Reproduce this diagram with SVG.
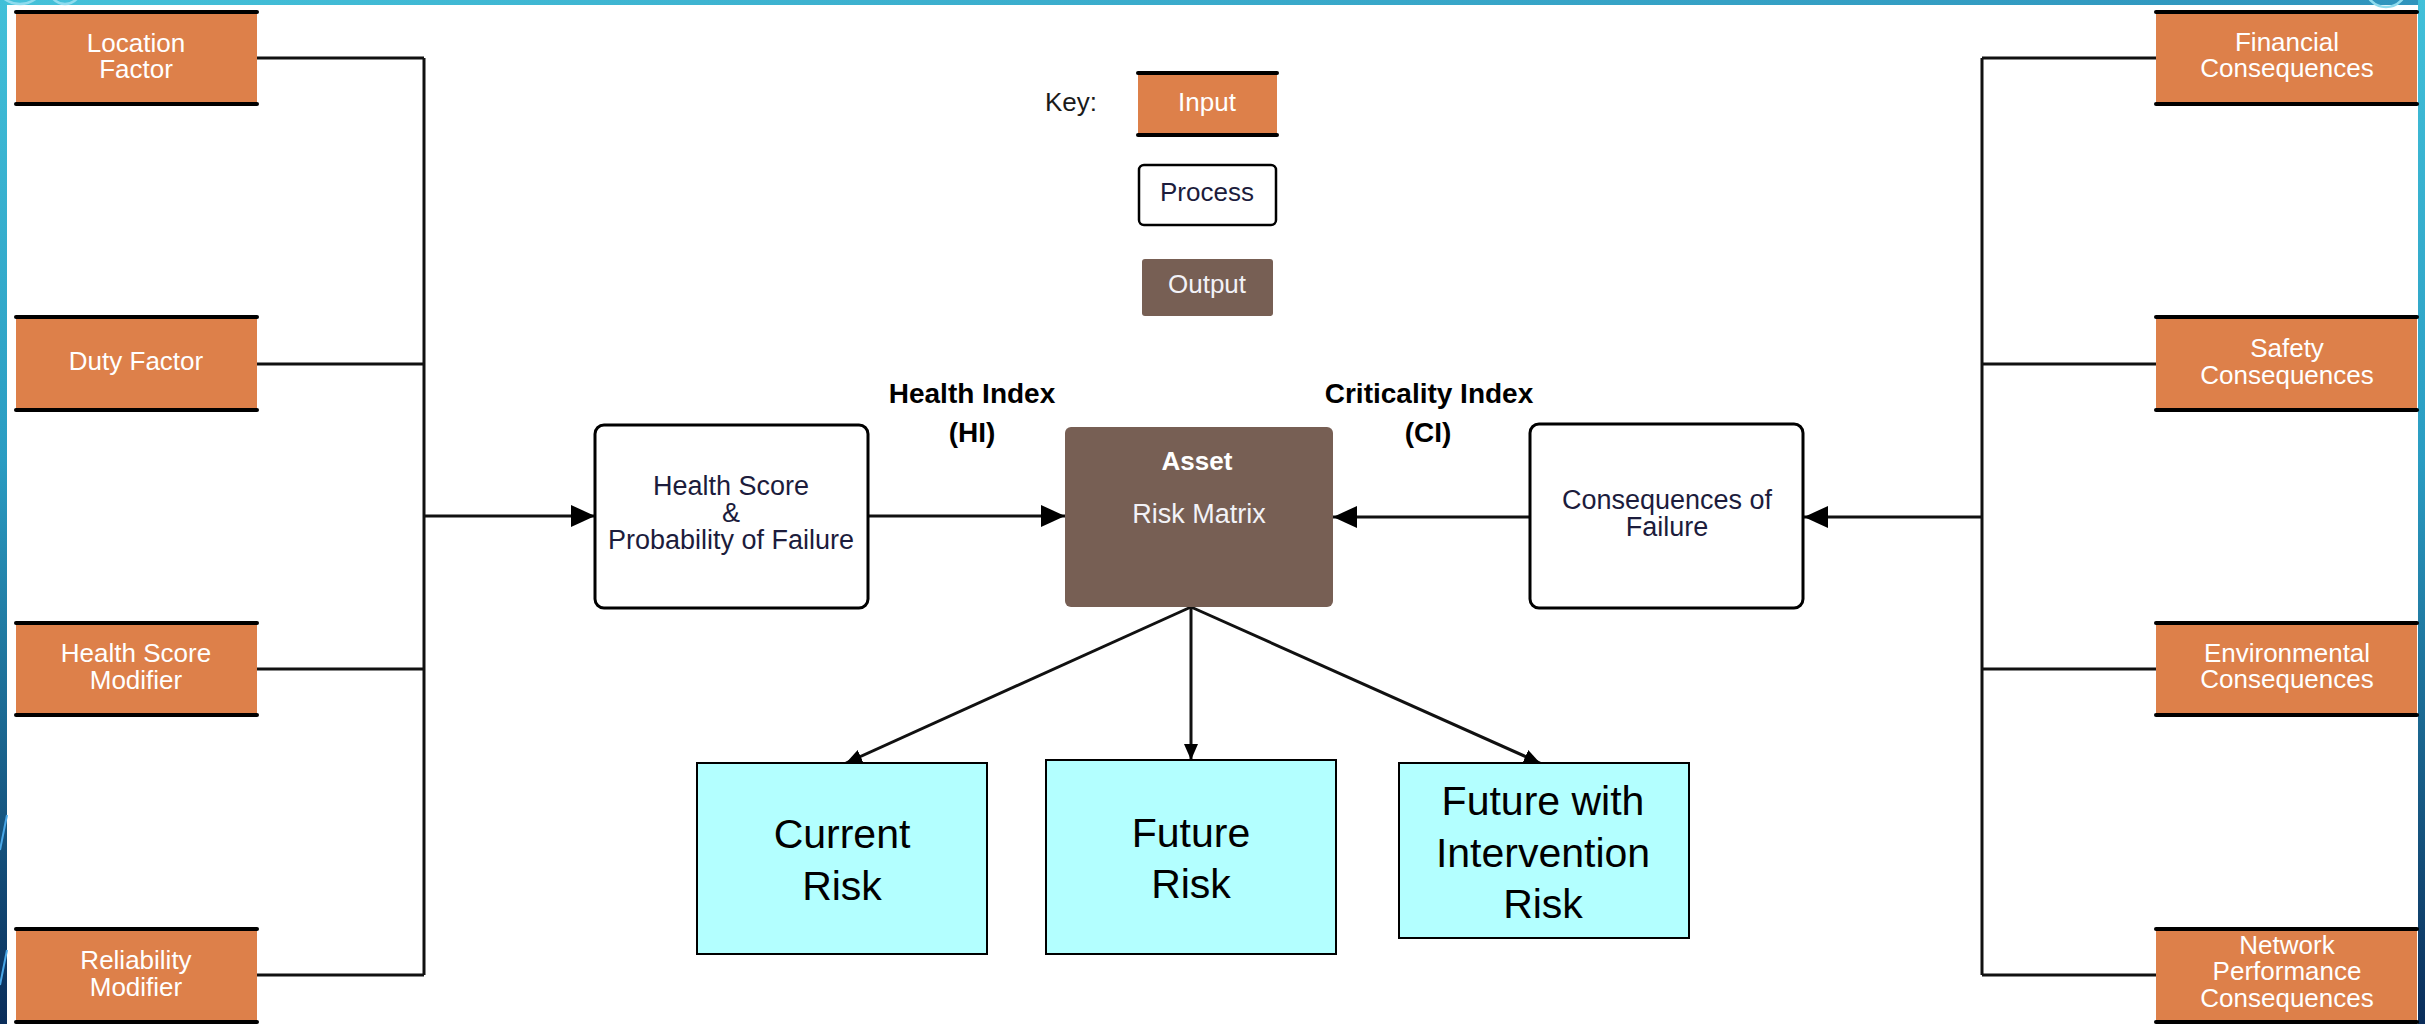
<svg xmlns="http://www.w3.org/2000/svg" width="2425" height="1024" viewBox="0 0 2425 1024">
<defs>
  <linearGradient id="sideGrad" x1="0" y1="0" x2="0" y2="1">
    <stop offset="0" stop-color="#42c0d9"/>
    <stop offset="0.45" stop-color="#2a9cc2"/>
    <stop offset="1" stop-color="#0a2d5a"/>
  </linearGradient>
  <linearGradient id="topGrad" x1="0" y1="0" x2="1" y2="0">
    <stop offset="0" stop-color="#44c1d9"/>
    <stop offset="1" stop-color="#2f94bd"/>
  </linearGradient>
  <marker id="arrowBig" markerUnits="userSpaceOnUse" markerWidth="24" markerHeight="22" viewBox="0 0 24 22" refX="24" refY="11" orient="auto">
    <path d="M0,0 L24,11 L0,22 z" fill="#000"/>
  </marker>
  <marker id="arrowSmall" markerUnits="userSpaceOnUse" markerWidth="16" markerHeight="14" viewBox="0 0 16 14" refX="16" refY="7" orient="auto">
    <path d="M0,0 L16,7 L0,14 z" fill="#000"/>
  </marker>
</defs>
<style>
  .inBox { fill:#dd804a; }
  .inLine { stroke:#000; stroke-width:4; stroke-linecap:round; }
  .inText { font-family:"Liberation Sans", Arial, sans-serif; font-size:26px; fill:#ffffff; text-anchor:middle; }
  .proc { fill:#ffffff; stroke:#000; stroke-width:3; }
  .procText { font-family:"Liberation Sans", Arial, sans-serif; font-size:27px; fill:#1c1c3c; text-anchor:middle; }
  .out { fill:#775f54; }
  .outText { font-family:"Liberation Sans", Arial, sans-serif; font-size:27px; fill:#f2f2f7; text-anchor:middle; }
  .label { font-family:"Liberation Sans", Arial, sans-serif; font-weight:bold; font-size:28px; fill:#000; text-anchor:middle; }
  .risk { fill:#b3ffff; stroke:#000; stroke-width:2; }
  .riskText { font-family:"Liberation Sans", Arial, sans-serif; font-size:41px; fill:#000; text-anchor:middle; }
  .conn { fill:none; stroke:#111; stroke-width:3; }
  .deco { fill:none; stroke:#8fdcee; stroke-width:2.5; }
</style>

<!-- slide background and frame -->
<rect x="0" y="0" width="2425" height="1024" fill="#ffffff"/>
<rect x="0" y="0" width="2425" height="5" fill="url(#topGrad)"/>
<rect x="0" y="0" width="7" height="1024" fill="url(#sideGrad)"/>
<rect x="2418" y="0" width="7" height="1024" fill="url(#sideGrad)"/>
<circle class="deco" cx="20" cy="-22" r="26"/>
<circle class="deco" cx="65" cy="-12" r="16"/>
<circle class="deco" cx="2386" cy="-14" r="21"/>
<line x1="0" y1="850" x2="7" y2="815" stroke="#4aa8e8" stroke-width="2"/>
<line x1="0" y1="985" x2="7" y2="950" stroke="#4aa8e8" stroke-width="2"/>

<!-- connectors -->
<g id="connectors">
  <path class="conn" d="M257,58 H424 M257,364 H424 M257,669 H424 M257,975 H424 M424,58 V975"/>
  <line class="conn" x1="424" y1="516" x2="595" y2="516" marker-end="url(#arrowBig)"/>
  <line class="conn" x1="868" y1="516" x2="1065" y2="516" marker-end="url(#arrowBig)"/>
  <line class="conn" x1="1530" y1="517" x2="1333" y2="517" marker-end="url(#arrowBig)"/>
  <path class="conn" d="M2156,58 H1982 M2156,364 H1982 M2156,669 H1982 M2156,975 H1982 M1982,58 V975"/>
  <line class="conn" x1="1982" y1="517" x2="1804" y2="517" marker-end="url(#arrowBig)"/>
  <line class="conn" x1="1191" y1="607" x2="846" y2="763" marker-end="url(#arrowSmall)"/>
  <line class="conn" x1="1191" y1="607" x2="1191" y2="760" marker-end="url(#arrowSmall)"/>
  <line class="conn" x1="1191" y1="607" x2="1540" y2="763" marker-end="url(#arrowSmall)"/>
</g>

<!-- left inputs -->
<g id="location-factor">
  <rect class="inBox" x="16" y="12" width="241" height="92"/>
  <line class="inLine" x1="16" y1="12" x2="257" y2="12"/>
  <line class="inLine" x1="16" y1="104" x2="257" y2="104"/>
  <text class="inText" x="136" y="52">Location</text>
  <text class="inText" x="136" y="78">Factor</text>
</g>
<g id="duty-factor">
  <rect class="inBox" x="16" y="317" width="241" height="93"/>
  <line class="inLine" x1="16" y1="317" x2="257" y2="317"/>
  <line class="inLine" x1="16" y1="410" x2="257" y2="410"/>
  <text class="inText" x="136" y="370">Duty Factor</text>
</g>
<g id="health-score-modifier">
  <rect class="inBox" x="16" y="623" width="241" height="92"/>
  <line class="inLine" x1="16" y1="623" x2="257" y2="623"/>
  <line class="inLine" x1="16" y1="715" x2="257" y2="715"/>
  <text class="inText" x="136" y="662">Health Score</text>
  <text class="inText" x="136" y="689">Modifier</text>
</g>
<g id="reliability-modifier">
  <rect class="inBox" x="16" y="929" width="241" height="93"/>
  <line class="inLine" x1="16" y1="929" x2="257" y2="929"/>
  <line class="inLine" x1="16" y1="1022" x2="257" y2="1022"/>
  <text class="inText" x="136" y="969">Reliability</text>
  <text class="inText" x="136" y="996">Modifier</text>
</g>

<!-- right inputs -->
<g id="financial-consequences">
  <rect class="inBox" x="2156" y="12" width="261" height="92"/>
  <line class="inLine" x1="2156" y1="12" x2="2417" y2="12"/>
  <line class="inLine" x1="2156" y1="104" x2="2417" y2="104"/>
  <text class="inText" x="2287" y="51">Financial</text>
  <text class="inText" x="2287" y="77">Consequences</text>
</g>
<g id="safety-consequences">
  <rect class="inBox" x="2156" y="317" width="261" height="93"/>
  <line class="inLine" x1="2156" y1="317" x2="2417" y2="317"/>
  <line class="inLine" x1="2156" y1="410" x2="2417" y2="410"/>
  <text class="inText" x="2287" y="357">Safety</text>
  <text class="inText" x="2287" y="384">Consequences</text>
</g>
<g id="environmental-consequences">
  <rect class="inBox" x="2156" y="623" width="261" height="92"/>
  <line class="inLine" x1="2156" y1="623" x2="2417" y2="623"/>
  <line class="inLine" x1="2156" y1="715" x2="2417" y2="715"/>
  <text class="inText" x="2287" y="662">Environmental</text>
  <text class="inText" x="2287" y="688">Consequences</text>
</g>
<g id="network-performance-consequences">
  <rect class="inBox" x="2156" y="929" width="261" height="93"/>
  <line class="inLine" x1="2156" y1="929" x2="2417" y2="929"/>
  <line class="inLine" x1="2156" y1="1022" x2="2417" y2="1022"/>
  <text class="inText" x="2287" y="954">Network</text>
  <text class="inText" x="2287" y="980">Performance</text>
  <text class="inText" x="2287" y="1007">Consequences</text>
</g>

<!-- key -->
<g id="key">
  <text x="1071" y="111" style="font-family:'Liberation Sans', Arial, sans-serif; font-size:26px; fill:#1a1a1a; text-anchor:middle;">Key:</text>
  <g id="key-input">
    <rect class="inBox" x="1138" y="73" width="139" height="62"/>
    <line class="inLine" x1="1138" y1="73" x2="1277" y2="73"/>
    <line class="inLine" x1="1138" y1="135" x2="1277" y2="135"/>
    <text class="inText" x="1207" y="111">Input</text>
  </g>
  <g id="key-process">
    <rect class="proc" x="1139" y="165" width="137" height="60" rx="5" style="stroke-width:2.5"/>
    <text class="procText" x="1207" y="201" style="font-size:26px">Process</text>
  </g>
  <g id="key-output">
    <rect class="out" x="1142" y="259" width="131" height="57" rx="3"/>
    <text class="outText" x="1207" y="293" style="font-size:26px">Output</text>
  </g>
</g>

<!-- process nodes -->
<g id="health-score-pof">
  <rect class="proc" x="595" y="425" width="273" height="183" rx="9"/>
  <text class="procText" x="731" y="495">Health Score</text>
  <text class="procText" x="731" y="522">&amp;</text>
  <text class="procText" x="731" y="549">Probability of Failure</text>
</g>
<g id="consequences-of-failure">
  <rect class="proc" x="1530" y="424" width="273" height="184" rx="9"/>
  <text class="procText" x="1667" y="509">Consequences of</text>
  <text class="procText" x="1667" y="536">Failure</text>
</g>

<!-- output node -->
<g id="asset-risk-matrix">
  <rect class="out" x="1065" y="427" width="268" height="180" rx="6"/>
  <text x="1197" y="470" style="font-family:'Liberation Sans', Arial, sans-serif; font-weight:bold; font-size:26px; fill:#ffffff; text-anchor:middle;">Asset</text>
  <text class="outText" x="1199" y="523">Risk Matrix</text>
</g>

<!-- index labels -->
<g id="health-index-label">
  <text class="label" x="972" y="403">Health Index</text>
  <text class="label" x="972" y="442">(HI)</text>
</g>
<g id="criticality-index-label">
  <text class="label" x="1429" y="403">Criticality Index</text>
  <text class="label" x="1428" y="442">(CI)</text>
</g>

<!-- risk outputs -->
<g id="current-risk">
  <rect class="risk" x="697" y="763" width="290" height="191"/>
  <text class="riskText" x="842" y="848">Current</text>
  <text class="riskText" x="842" y="900">Risk</text>
</g>
<g id="future-risk">
  <rect class="risk" x="1046" y="760" width="290" height="194"/>
  <text class="riskText" x="1191" y="847">Future</text>
  <text class="riskText" x="1191" y="898">Risk</text>
</g>
<g id="future-intervention-risk">
  <rect class="risk" x="1399" y="763" width="290" height="175"/>
  <text class="riskText" x="1543" y="815">Future with</text>
  <text class="riskText" x="1543" y="867">Intervention</text>
  <text class="riskText" x="1543" y="918">Risk</text>
</g>
</svg>
